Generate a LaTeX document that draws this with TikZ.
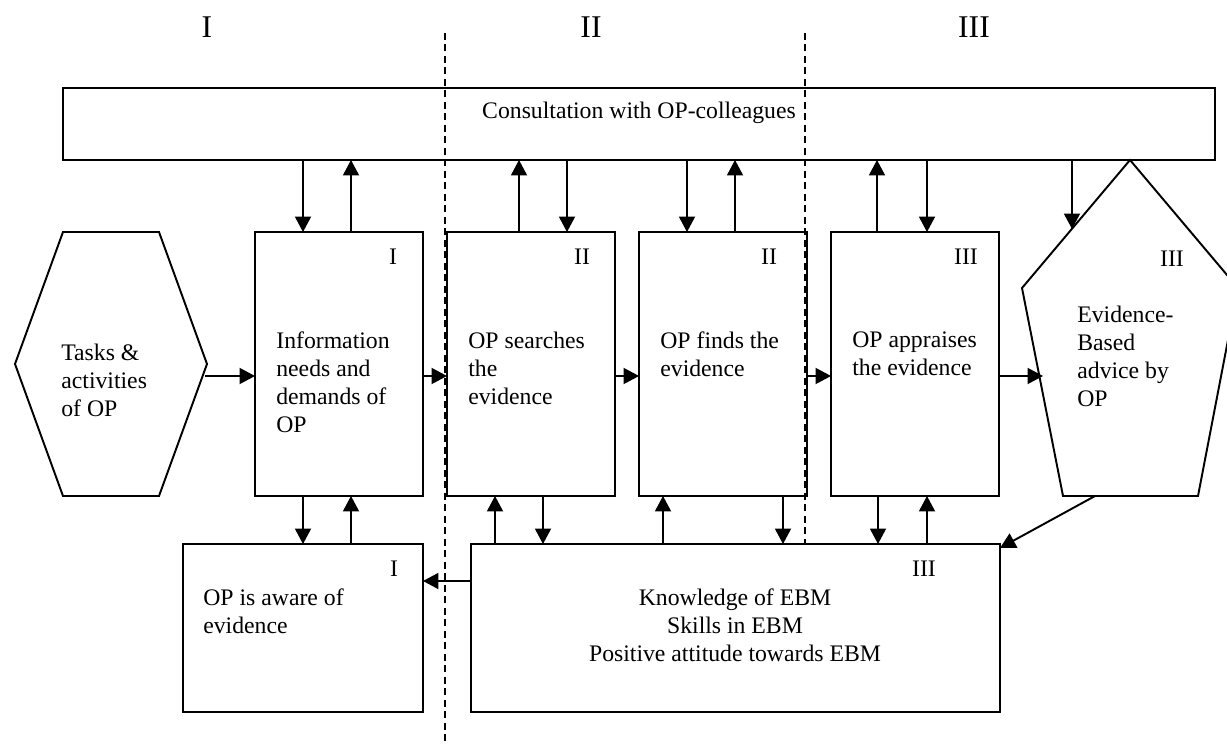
\documentclass[tikz,border=0pt]{standalone}
\usepackage{fontspec}
\setmainfont{Liberation Serif}
\usetikzlibrary{arrows.meta}
\newcommand{\txtsize}{\fontsize{13.5}{15.9}\selectfont}
\newcommand{\phsize}{\fontsize{18}{22}\selectfont}

\begin{document}
\begin{tikzpicture}[x=0.02cm,y=-0.02cm,
  box/.style={draw, line width=1.1pt, inner sep=0pt, outer sep=0pt},
  txt/.style={font=\txtsize, align=left, anchor=west, inner sep=0pt},
  num/.style={font=\txtsize, inner sep=0pt},
  arr/.style={line width=1.1pt, -{Triangle[length=0.31cm,width=0.32cm]}},
  phase/.style={line width=0.8pt, dash pattern=on 0.14cm off 0.09cm}]
\useasboundingbox (0,0) rectangle (1227,747);
\node[font=\phsize] (ph1) at (207,27) {I};
\node[font=\phsize] (ph2) at (591,27) {II};
\node[font=\phsize] (ph3) at (974,27) {III};
\node[box, minimum width=23.04cm, minimum height=1.44cm] (cons) at (639,124) {};
\node[font=\txtsize, inner sep=0pt] (constxt) at (639,113) {Consultation with OP-colleagues};
\draw[line width=1.1pt] (15,364) -- (63,232) -- (159,232) -- (207,364) -- (159,496) -- (63,496) -- cycle;
\coordinate (tasksout) at (205,376);
\node[txt] (tasks) at (61,380) {Tasks \&\\activities\\of OP};
\node[box, minimum width=3.36cm, minimum height=5.28cm] (info) at (339,364) {};
\node[box, minimum width=3.36cm, minimum height=5.28cm] (search) at (531,364) {};
\node[box, minimum width=3.36cm, minimum height=5.28cm] (finds) at (723,364) {};
\node[box, minimum width=3.36cm, minimum height=5.28cm] (appr) at (915,364) {};
\draw[line width=1.1pt] (1130,160) -- (1238,288) -- (1198,496) -- (1063,496) -- (1022,288) -- cycle;
\coordinate (advtop) at (1072,229);
\coordinate (advin) at (1043,376);
\coordinate (advout) at (1095,496);
\node[box, minimum width=4.8cm, minimum height=3.36cm] (aware) at (303,628) {};
\node[box, minimum width=10.58cm, minimum height=3.36cm] (keb) at (735.5,628) {};
\node[txt] (infotxt) at (276,382) {Information\\needs and\\demands of\\OP};
\node[txt] (searchtxt) at (468,368) {OP searches\\the\\evidence};
\node[txt] (findstxt) at (660,354) {OP finds the\\evidence};
\node[txt] (apprtxt) at (852,354) {OP appraises\\the evidence};
\node[txt] (advtxt) at (1077,356) {Evidence-\\Based\\advice by\\OP};
\node[txt] (awaretxt) at (203,611) {OP is aware of\\evidence};
\node[font=\txtsize, align=center, inner sep=0pt] (kebtxt) at (735,625) {Knowledge of EBM\\Skills in EBM\\Positive attitude towards EBM};
\node[num] (infonum) at (393,257) {I};
\node[num] (searchnum) at (582,257) {II};
\node[num] (findsnum) at (769,257) {II};
\node[num] (apprnum) at (966,257) {III};
\node[num] (advnum) at (1172,259) {III};
\node[num] (awarenum) at (394,569) {I};
\node[num] (kebnum) at (924,569) {III};
\draw[phase] (445,33) -- (445,745);
\draw[phase] (805,33) -- (keb.north -| 805,0);
\draw[arr] (tasksout) -- ([yshift=-0.24cm]info.west);
\draw[arr] ([yshift=-0.24cm]info.east) -- ([yshift=-0.24cm]search.west);
\draw[arr] ([yshift=-0.24cm]search.east) -- ([yshift=-0.24cm]finds.west);
\draw[arr] ([yshift=-0.24cm]finds.east) -- ([yshift=-0.24cm]appr.west);
\draw[arr] ([yshift=-0.24cm]appr.east) -- (advin);
\draw[arr] (cons.south -| 1072,0) -- (advtop);
\draw[arr] (advout) -- ([yshift=-0.08cm]keb.north east);
\draw[arr] ([yshift=0.94cm]keb.west) -- ([yshift=0.94cm]aware.east);
\foreach \x/\a/\b in {303/cons/info, 567/cons/search, 687/cons/finds, 927/cons/appr, 303/info/aware, 543/search/keb, 783/finds/keb, 878/appr/keb}
  \draw[arr] (\a.south -| \x,0) -- (\b.north -| \x,0);
\foreach \x/\a/\b in {351/cons/info, 519/cons/search, 735/cons/finds, 877/cons/appr, 351/info/aware, 495/search/keb, 663/finds/keb, 927/appr/keb}
  \draw[arr] (\b.north -| \x,0) -- (\a.south -| \x,0);
\end{tikzpicture}
\end{document}
